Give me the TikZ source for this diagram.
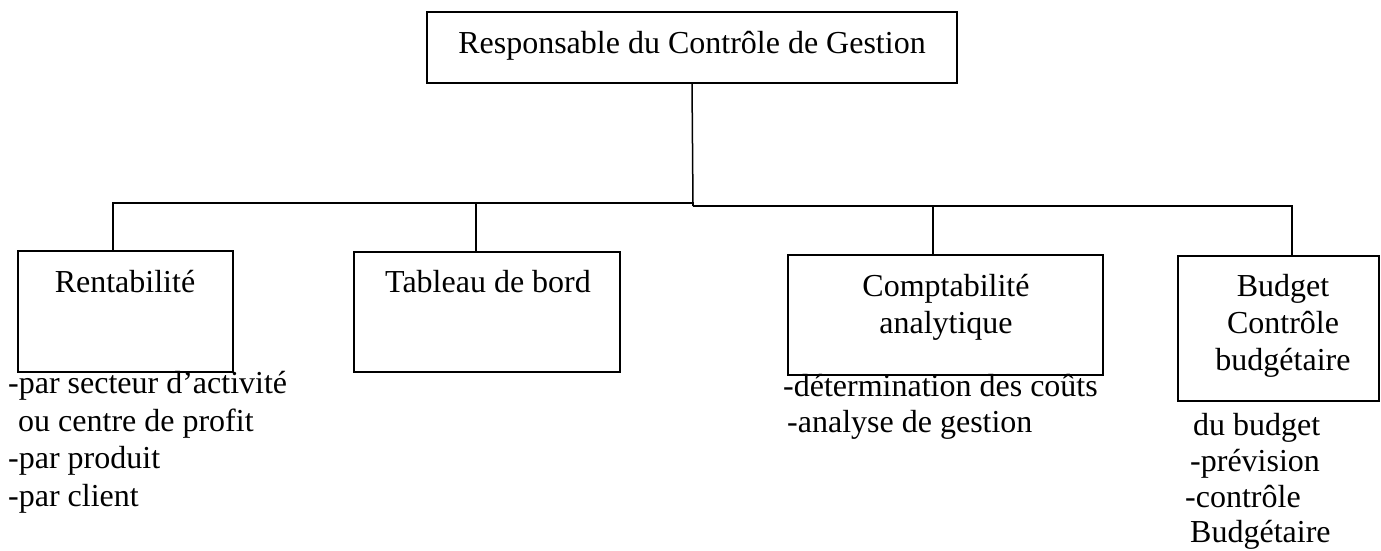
\documentclass[tikz,border=0pt]{standalone}
\usepackage{fontspec}
\setmainfont{Liberation Serif}
\begin{document}
\begin{tikzpicture}[x=1pt,y=-1pt,
  box/.style={draw, line width=1.5pt, rectangle, inner sep=0pt, outer sep=0pt},
  conn/.style={line width=1.5pt},
  lbl/.style={inner sep=0pt, anchor=base, font=\fontsize{32}{37}\selectfont},
  item/.style={inner sep=0pt, anchor=base west, font=\fontsize{32}{37}\selectfont}]
\useasboundingbox (0,0) rectangle (1381,550);

% boxes
\node[box, minimum width=530pt, minimum height=71pt]  (top)  at (692,47.5) {};
\node[box, minimum width=215pt, minimum height=121pt] (rent) at (125.5,311.5) {};
\node[box, minimum width=266pt, minimum height=120pt] (tab)  at (487,312) {};
\node[box, minimum width=315pt, minimum height=120pt] (comp) at (945.5,315) {};
\node[box, minimum width=201pt, minimum height=145pt] (bud)  at (1278.5,328.5) {};

% box titles
\node[lbl] (ttop)  at (692,53)  {Responsable du Contrôle de Gestion};
\node[lbl] (trent) at (125,292) {Rentabilité};
\node[lbl] (ttab)  at (488,292) {Tableau de bord};
\node[lbl] (tcomp1) at (946,296) {Comptabilité};
\node[lbl] (tcomp2) at (946,333) {analytique};
\node[lbl] (tbud1) at (1283,296) {Budget};
\node[lbl] (tbud2) at (1283,333) {Contrôle};
\node[lbl] (tbud3) at (1283,370) {budgétaire};

% connectors
\coordinate (j)  at (693,206);
\coordinate (jl) at (693,203);
\draw[conn] (top.south) -- (j);
\draw[conn] (j) -- (jl) -| ([xshift=-12.5pt]rent.north);
\draw[conn] ([xshift=-11pt]tab.north) -- ([xshift=-11pt]tab.north |- jl);
\draw[conn] (j) -| ([xshift=13.5pt]bud.north);
\draw[conn] ([xshift=-12.5pt]comp.north) -- ([xshift=-12.5pt]comp.north |- j);

% lists under the boxes
\node[item] (r1) at (8,393)  {-par secteur d’activité};
\node[item] (r2) at (18,431) {ou centre de profit};
\node[item] (r3) at (8,468)  {-par produit};
\node[item] (r4) at (8,506)  {-par client};

\node[item] (c1) at (783,396) {-détermination des coûts};
\node[item] (c2) at (787,432) {-analyse de gestion};

\node[item] (b1) at (1193,435) {du budget};
\node[item] (b2) at (1190,471) {-prévision};
\node[item] (b3) at (1185,507) {-contrôle};
\node[item] (b4) at (1190,542) {Budgétaire};
\end{tikzpicture}
\end{document}
